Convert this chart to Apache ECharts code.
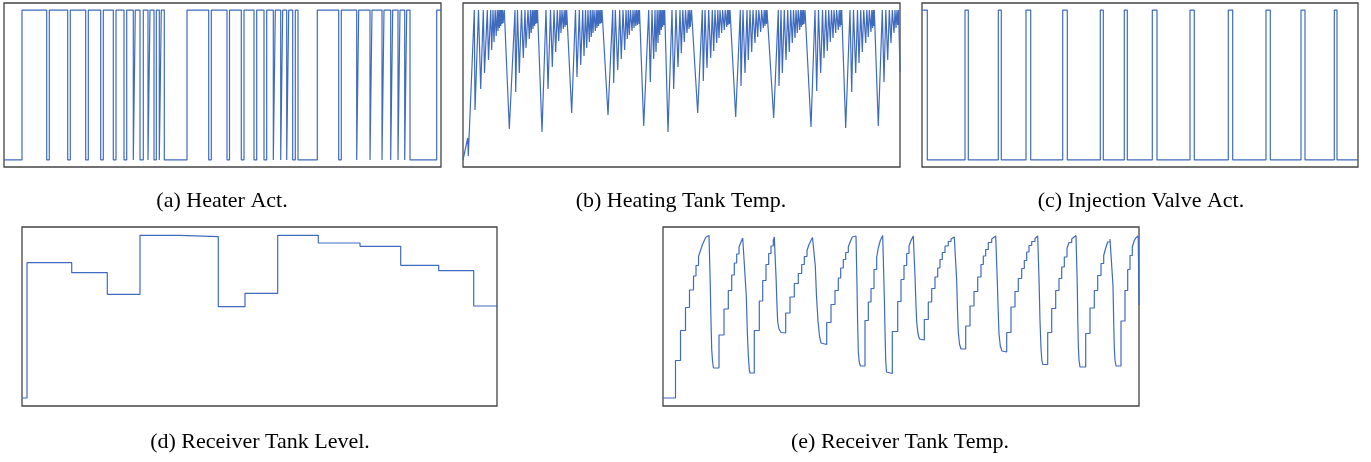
<!DOCTYPE html>
<html lang="en">
<head>
    <meta charset="UTF-8">
    <title>Heater / tank signals</title>
    <script src="https://cdn.jsdelivr.net/npm/echarts@6.0.0/dist/echarts.min.js"></script>
    <style>
        body { margin: 0; background: #fff; }
        #chart { width: 1371px; height: 462px; }
    </style>
</head>
<body>
    <div id="chart"></div>
    <script>
        // (a) heater on/off: switching instants, starts off
        var heaterSwitchT = [18, 42.7, 45.3, 63.7, 66.3, 81.7, 84.3, 96.7, 99.3, 109.3, 112, 120, 122.7, 129.3,
            131.3, 136, 139.3, 144, 146, 150, 152.3, 155.3, 157.3, 160.3, 183, 204.7, 207.3, 223, 225.5, 237.3,
            240, 250, 252.7, 260, 262.7, 269.3, 271.3, 276.7, 278.7, 282.7, 284.7, 288.7, 291.3, 294, 313.3,
            334.7, 337.3, 352.7, 354.7, 366, 368, 378, 380, 386.7, 388.7, 394, 396, 400.7, 402.7, 406, 432.7];

        // (b) heating tank temperature: peaks (at the cut-off level) and dips
        var heatTop = 157;
        var heatStart = [[0, 7], [4.7, 29], [5.3, 11]];
        var heatPeakT = [11.3, 15.5, 20.3, 24.3, 27.7, 30, 32.2, 34.3, 35.8, 37.2, 38.4, 39.6, 41.3,
            52, 54.5, 58.5, 62, 65, 67.5, 69.3, 70.8, 72.2, 73.4, 74.5,
            83, 87.5, 91, 94.3, 97, 99, 101.2, 102.8, 103.7,
            112.5, 116.3, 119.7, 122.5, 125, 127.3, 129.2, 131, 133.2, 134.8, 136.2, 137.8, 139,
            149.7, 152.3, 156.7, 160, 163, 165.3, 167.5, 170, 172, 173.6, 175.2, 176.5,
            185.7, 189, 192, 194.2, 196, 197.5, 199, 200.3, 201.7,
            209, 213, 217, 219.8, 222.5, 225.2, 226.8, 228.5,
            239.3, 242, 245.7, 249.3, 252, 254.8, 257, 259.6, 262.2, 264.4, 265.8, 267,
            277.3, 280, 284, 287, 290, 293.2, 295.8, 298.6, 301.2, 302.8, 304,
            315.3, 318, 321.3, 324.7, 327.7, 330.5, 333, 335.2, 337.5, 339, 340.4, 342,
            352, 355.5, 359.5, 362.7, 365.7, 368.5, 371, 373.6, 376.2, 377.8, 378.7,
            387, 390.5, 394.5, 397.7, 400.7, 403.8, 406.3, 408.8, 410.3, 411.3,
            419.3, 422.8, 426.3, 429.3, 432, 434, 435.6];
        var heatDips = [[12, 57], [17.7, 78], [21.5, 94], [25.5, 107], [28.7, 117], [31, 125], [33.2, 131],
            [35, 136], [36.5, 139], [37.8, 141], [39, 143], [40.1, 144], [46.3, 38],
            [52.7, 75], [56.3, 94], [60.3, 109], [63, 119], [66.3, 128], [68.2, 134], [70, 138], [71.5, 141],
            [72.8, 143], [74, 144], [79, 35],
            [85, 78], [89.3, 100], [92.7, 115], [95.7, 126], [98, 134], [100.3, 138], [102, 140], [103.3, 142], [108.7, 54],
            [114, 90], [117.7, 102], [121, 111], [123.7, 119], [126.3, 125], [128.3, 130], [130, 134], [132.3, 136],
            [134, 139], [135.5, 141], [137, 143], [138.3, 144], [145, 52],
            [150.7, 84], [154.7, 97], [158.3, 108], [161.7, 117], [164.3, 128], [166.3, 132], [169, 136], [171, 139],
            [172.8, 141], [174.4, 142], [176, 143], [180.7, 41],
            [187.3, 85], [190.7, 108], [193, 115], [195, 124], [196.7, 132], [198.3, 137], [199.7, 140], [201, 142], [205, 35],
            [210.7, 78], [215, 100], [218.3, 114], [221.3, 125], [224, 134], [226, 138], [227.3, 140], [234.7, 54],
            [240.3, 86], [244, 99], [247.7, 109], [250.7, 116], [253.7, 124], [256, 129], [258.7, 134], [261.3, 137],
            [263.7, 140], [265, 142], [266.4, 143], [272.7, 50],
            [278, 81], [282, 94], [285.3, 107], [288.7, 115], [292, 124], [294.7, 130], [297.7, 135], [300.3, 139],
            [302, 141], [303.4, 143], [310.7, 49],
            [316, 81], [319.3, 94], [323, 107], [326.3, 115], [329.3, 124], [332, 129], [334.3, 134], [336.7, 137],
            [338.3, 140], [339.7, 142], [341, 143], [348, 40],
            [353.7, 76], [357.7, 94], [361, 109], [364.3, 116], [367.3, 125], [370, 129], [372.7, 134], [375.3, 137],
            [377, 140], [378.3, 142], [382.7, 39],
            [388.7, 75], [392.7, 94], [396, 104], [399.3, 115], [402.7, 124], [405.3, 130], [408, 135], [409.6, 139],
            [410.8, 141], [415.3, 41],
            [421, 85], [424.7, 107], [428, 124], [431, 134], [433, 139], [434.7, 142]];
        var heatEnd = [437, 95];

        // (c) injection valve: switching instants, starts open
        var valveSwitchT = [5.3, 43, 46.3, 76.3, 79.3, 104, 108.7, 140.7, 145.3, 178.3, 181.3, 202.3, 205.3,
            230.3, 235, 268, 272.3, 306.3, 310.7, 344, 348.3, 379, 383, 412.3, 415];

        // (d) receiver tank level: change instants and new levels
        var levelT = [0, 5, 49.7, 85.3, 118, 157.7, 196.3, 223, 255.7, 296.3, 338, 378.7, 416.7, 451.7, 475];
        var levelV = [8, 143.3, 133.3, 111.7, 170.7, 169.3, 99.3, 112.7, 170.7, 163, 159.7, 140.7, 135.3, 100, 100];

        // (e) receiver tank temperature: vertices (repeated t = step)
        var recvTemp = [[0, 8], [12.5, 8], [12.5, 45.5], [17.5, 45.5], [17.5, 75.5], [22.5, 75.5], [22.5, 98.5],
            [26.5, 98.5], [26.5, 116], [30.5, 116], [30.5, 130], [33, 130], [33, 140.5], [35.5, 140.5], [35.5, 149.5],
            [37.5, 149.5], [37.5, 155.5], [39.5, 155.5], [39.5, 161.5], [41.5, 161.5], [41.5, 166], [43, 166], [43, 169],
            [44.5, 169], [44.5, 170.5], [46, 170.5],
            [47.3, 120], [48, 85], [48.7, 57], [49.5, 45], [50.5, 38], [56, 38], [56, 71],
            [61, 71], [61, 97], [65.3, 97], [65.3, 115.5], [68.7, 115.5], [68.7, 131], [71.3, 131], [71.3, 143],
            [73.7, 143], [73.7, 152], [76, 152], [76, 159], [78, 159], [78, 164], [79.7, 164], [79.7, 168], [81.3, 168],
            [81.3, 170], [82, 170],
            [83.3, 110], [84.3, 75], [85.3, 51], [86.3, 36], [87, 33], [91.3, 33], [91.3, 75.5],
            [96.3, 75.5], [96.3, 105], [99.7, 105], [99.7, 125.5], [103, 125.5], [103, 141.5], [105.7, 141.5],
            [105.7, 152.5], [108, 152.5], [108, 160], [110.3, 160], [110.3, 165.5], [111.3, 165.5], [111.3, 169], [112, 170],
            [113, 130], [114, 100], [114.7, 84], [116, 77], [118, 73.5], [119, 73], [122.7, 73], [122.7, 93],
            [127, 93], [127, 109], [131.3, 109], [131.3, 122.5], [135.3, 122.5], [135.3, 132.5], [138.7, 132.5],
            [138.7, 141.5], [141.3, 141.5], [141.3, 149.5], [144, 149.5], [144, 155.5], [146, 155.5], [146, 161.5],
            [148, 161.5], [148, 165.5], [149.5, 165.5], [149.5, 168.5], [151.3, 170],
            [152.3, 140], [153.5, 110], [155, 85], [156.5, 70], [158, 63], [159, 62], [163.7, 61.5], [163.7, 83.5],
            [168, 83.5], [168, 101.5], [172, 101.5], [172, 115.5], [175.3, 115.5], [175.3, 128], [177.7, 128],
            [177.7, 138], [180.3, 138], [180.3, 146.5], [182.7, 146.5], [182.7, 153.5], [185.3, 153.5], [185.3, 159],
            [187.3, 159], [187.3, 164.5], [189.3, 164.5], [189.3, 169], [193, 170],
            [194, 120], [194.7, 80], [195.3, 55], [196.2, 44], [197.5, 40], [202, 40], [202, 85.5],
            [205.3, 85.5], [205.3, 104], [208, 104], [208, 117.5], [211, 117.5], [211, 136.5], [213.7, 136.5],
            [213.7, 149], [215.3, 149], [215.3, 158], [217.3, 158], [217.3, 165.5], [219.7, 170.5], [220.3, 170.5],
            [221.3, 110], [222, 75], [222.7, 46], [223.5, 34], [224, 32.5], [229.3, 32.5], [229.3, 74.5],
            [234.7, 74.5], [234.7, 104.5], [238, 104.5], [238, 126.5], [241, 126.5], [241, 140.5], [243.7, 140.5],
            [243.7, 152.5], [246, 152.5], [246, 160], [248, 160], [248, 165.5], [250.3, 170], [251, 169],
            [252, 130], [253, 100], [253.7, 84], [255, 72], [256.5, 67], [261.3, 66], [261.3, 86.5],
            [265.3, 86.5], [265.3, 104], [268.7, 104], [268.7, 117.5], [272, 117.5], [272, 129], [274.7, 129],
            [274.7, 138], [277, 138], [277, 146.5], [279.3, 146.5], [279.3, 153.5], [282, 153.5], [282, 160],
            [285.3, 160], [285.3, 164.5], [288, 164.5], [288, 167], [291.3, 169], [292.7, 169],
            [293.7, 125], [294.5, 95], [295.3, 74], [296.5, 62], [298, 57], [302.7, 57], [302.7, 80],
            [307, 80], [307, 100], [311, 100], [311, 114.5], [314.7, 114.5], [314.7, 129], [318, 129], [318, 141.5],
            [320.3, 141.5], [320.3, 150], [322.7, 150], [322.7, 156.5], [325.3, 156.5], [325.3, 163.5], [328.7, 163.5],
            [328.7, 167], [332.7, 170], [333.3, 170],
            [334.3, 125], [335.2, 95], [336, 72], [337.3, 60], [339, 55], [343.7, 54], [343.7, 73.5],
            [348, 73.5], [348, 99], [352, 99], [352, 114.5], [355.3, 114.5], [355.3, 127.5], [358.7, 127.5],
            [358.7, 137.5], [361.3, 137.5], [361.3, 145.5], [363.7, 145.5], [363.7, 154], [366, 154], [366, 160.5],
            [368.7, 160.5], [368.7, 164.5], [372, 164.5], [372, 167.5], [374.7, 170], [375.3, 170],
            [376.2, 120], [377, 85], [378, 58], [378.8, 46], [379.7, 41.5], [384.7, 41.5], [384.7, 73.5],
            [388.7, 73.5], [388.7, 97.5], [392.7, 97.5], [392.7, 115.5], [396, 115.5], [396, 127.5], [398.7, 127.5],
            [398.7, 139], [401.3, 139], [401.3, 149], [404, 149], [404, 157.5], [406, 157.5], [406, 163.5],
            [408.7, 163.5], [408.7, 167], [413, 170.5], [413.7, 170.5],
            [414.3, 120], [414.8, 85], [415.3, 61], [416, 46], [417, 39], [422.7, 39], [422.7, 72.5],
            [427, 72.5], [427, 98], [431.3, 98], [431.3, 115.5], [434.7, 115.5], [434.7, 130.5], [438, 130.5],
            [438, 142.5], [440.7, 142.5], [440.7, 150.5], [442.7, 150.5], [442.7, 158], [444.7, 158], [444.7, 164],
            [447, 164], [447, 167], [448.7, 169], [449.3, 169],
            [450, 120], [450.7, 85], [451.3, 58], [452, 46], [453, 40], [458, 40], [458, 85],
            [462, 85], [462, 115.5], [464.7, 115.5], [464.7, 136.5], [467, 136.5], [467, 150.5], [469.3, 150.5],
            [469.3, 159], [471.3, 159], [471.3, 165.5], [472.7, 165.5], [472.7, 168], [474.3, 170], [475.2, 170], [476, 101]];

        var captions = ['(a) Heater Act.', '(b) Heating Tank Temp.', '(c) Injection Valve Act.',
            '(d) Receiver Tank Level.', '(e) Receiver Tank Temp.'];

        // on/off toggles -> step points
        function toggles(times, first, end) {
            var s = first, pts = [[0, s]];
            times.forEach(function (t) { s = 1 - s; pts.push([t, s]); });
            pts.push([end, s]);
            return pts;
        }

        var heatPts = heatStart.concat(heatPeakT.map(function (t) { return [t, heatTop]; }), heatDips)
            .sort(function (p, q) { return p[0] - q[0]; });
        heatPts.push(heatEnd);

        var levelPts = levelT.map(function (t, i) { return [t, levelV[i]]; });

        var BLUE = '#3f6bbf';
        var grids = [
            { left: 4, top: 3, width: 437, height: 164 },
            { left: 463, top: 3, width: 437, height: 164 },
            { left: 922, top: 3, width: 436, height: 164 },
            { left: 22, top: 227, width: 475, height: 179 },
            { left: 663, top: 227, width: 476, height: 179 }
        ];
        var xMax = [437, 437, 436, 475, 476];
        var yRange = [[-0.047, 1.047], [0, 164], [-0.047, 1.047], [0, 179], [0, 179]];
        var seriesData = [
            toggles(heaterSwitchT, 0, 437),
            heatPts,
            toggles(valveSwitchT, 1, 436),
            levelPts,
            recvTemp
        ];
        var steps = ['end', false, 'end', 'end', false];
        var capPos = [[222, 201], [681, 201], [1141, 201], [260, 442], [900, 442]];

        var chart = echarts.init(document.getElementById('chart'));
        chart.setOption({
            animation: false,
            grid: grids.map(function (g) {
                return Object.assign({ show: true, borderColor: '#444', borderWidth: 1.3, backgroundColor: '#fff' }, g);
            }),
            xAxis: xMax.map(function (m, i) {
                return { type: 'value', gridIndex: i, min: 0, max: m, show: false, splitLine: { show: false } };
            }),
            yAxis: yRange.map(function (r, i) {
                return { type: 'value', gridIndex: i, min: r[0], max: r[1], show: false, splitLine: { show: false } };
            }),
            series: seriesData.map(function (d, i) {
                return {
                    type: 'line', xAxisIndex: i, yAxisIndex: i, data: d, step: steps[i],
                    showSymbol: false, symbol: 'none', clip: true,
                    lineStyle: { color: BLUE, width: 1.2 }
                };
            }),
            graphic: captions.map(function (c, i) {
                return {
                    type: 'text', x: capPos[i][0], y: capPos[i][1], silent: true,
                    style: {
                        text: c, fill: '#000', font: '22px "Liberation Serif"',
                        align: 'center', verticalAlign: 'middle',
                        textAlign: 'center', textVerticalAlign: 'middle'
                    }
                };
            })
        });
    </script>
</body>
</html>
